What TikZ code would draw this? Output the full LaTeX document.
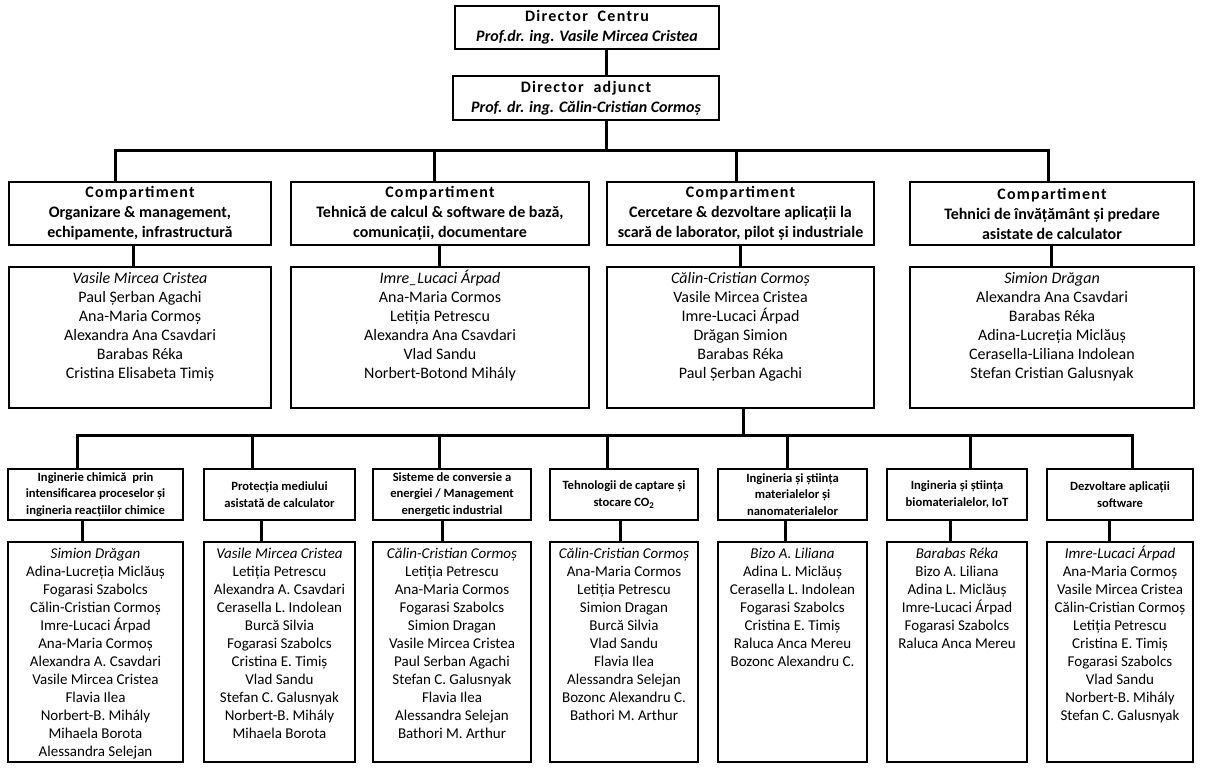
\documentclass[tikz,border=0pt]{standalone}
\usepackage{fontspec}
\setmainfont{Carlito}
\begin{document}
\begin{tikzpicture}[x=1pt,y=-1pt,
  box/.style 2 args={draw, line width=2pt, inner sep=0pt, outer sep=0pt, minimum width=#1pt, minimum height=#2pt, align=center},
  conn/.style={line width=3pt},
  dirtxt/.style={font=\bfseries\fontsize{16}{20}\selectfont},
  comptxt/.style={font=\bfseries\fontsize{16}{20}\selectfont},
  subtxt/.style={font=\bfseries\fontsize{12.6}{16.5}\selectfont},
  bignames/.style={font=\fontsize{16}{19}\selectfont, align=center, inner sep=0pt, anchor=north},
  smallnames/.style={font=\fontsize{15}{18}\selectfont, align=center, inner sep=0pt, anchor=north}
]
\newcommand{\spc}[1]{{\addfontfeatures{LetterSpace=8}#1}}
\newcommand{\tb}{\rule{0pt}{15pt}}
\newcommand{\ts}{\rule{0pt}{14pt}}
\useasboundingbox[fill=white] (0,0) rectangle (1207,771);

% directors
\node[box={264}{43}, dirtxt] (dc) at (587,27.5) {\spc{Director\ \ Centru}\\ \itshape Prof.dr. ing. Vasile Mircea Cristea};
\node[box={266}{44}, dirtxt] (da) at (586,98) {\spc{Director\ \ adjunct}\\ \itshape Prof. dr. ing. Călin-Cristian Cormoș};

% compartments
\node[box={262}{63}, comptxt] (c1) at (140,213.5) {\spc{Compartiment}\\ Organizare \& management,\\ echipamente, infrastructură};
\node[box={298}{63}, comptxt] (c2) at (440,213.5) {\spc{Compartiment}\\ Tehnică de calcul \& software de bază,\\ comunicații, documentare};
\node[box={267}{63}, comptxt] (c3) at (740.5,213.5) {\spc{Compartiment}\\ Cercetare \& dezvoltare aplicații la\\ scară de laborator, pilot și industriale};
\node[box={284}{63}, comptxt] (c4) at (1052,213.5) {\spc{Compartiment}\\ Tehnici de învățământ și predare\\ asistate de calculator};

% compartment members
\node[box={262}{141}] (m1) at (140,337.5) {};
\node[box={298}{141}] (m2) at (440,337.5) {};
\node[box={267}{141}] (m3) at (740.5,337.5) {};
\node[box={284}{141}] (m4) at (1052,337.5) {};
\node[bignames] (t1) at ([yshift=-1pt]m1.north) {\tb\textit{Vasile Mircea Cristea}\\ Paul Șerban Agachi\\ Ana-Maria Cormoș\\ Alexandra Ana Csavdari\\ Barabas Réka\\ Cristina Elisabeta Timiș};
\node[bignames] (t2) at ([yshift=-1pt]m2.north) {\tb\textit{Imre\_Lucaci Árpad}\\ Ana-Maria Cormos\\ Letiția Petrescu\\ Alexandra Ana Csavdari\\ Vlad Sandu\\ Norbert-Botond Mihály};
\node[bignames] (t3) at ([yshift=-1pt]m3.north) {\tb\textit{Călin-Cristian Cormoș}\\ Vasile Mircea Cristea\\ Imre-Lucaci Árpad\\ Drăgan Simion\\ Barabas Réka\\ Paul Șerban Agachi};
\node[bignames] (t4) at ([yshift=-1pt]m4.north) {\tb\textit{Simion Drăgan}\\ Alexandra Ana Csavdari\\ Barabas Réka\\ Adina-Lucreția Miclăuș\\ Cerasella-Liliana Indolean\\ Stefan Cristian Galusnyak};

% sub-units
\node[box={175}{51}, subtxt] (b1) at (95.5,494.5) {Inginerie chimică\ \ prin\\ intensificarea proceselor și\\ ingineria reacțiilor chimice};
\node[box={151}{51}, subtxt] (b2) at (279.5,494.5) {Protecția mediului\\ asistată de calculator};
\node[box={158}{51}, subtxt] (b3) at (452,494.5) {Sisteme de conversie a\\ energiei / Management\\ energetic industrial};
\node[box={148}{51}, subtxt] (b4) at (624,494.5) {Tehnologii de captare și\\ stocare CO\textsubscript{2}};
\node[box={149}{51}, subtxt] (b5) at (792.5,494.5) {Ingineria și știința\\ materialelor și\\ nanomaterialelor};
\node[box={140}{51}, subtxt] (b6) at (957,494.5) {Ingineria și știința\\ biomaterialelor, IoT};
\node[box={146}{51}, subtxt] (b7) at (1120,494.5) {Dezvoltare aplicații\\ software};

% sub-unit members
\node[box={175}{220}] (n1) at (95.5,652) {};
\node[box={151}{220}] (n2) at (279.5,652) {};
\node[box={158}{220}] (n3) at (452,652) {};
\node[box={148}{220}] (n4) at (624,652) {};
\node[box={149}{220}] (n5) at (792.5,652) {};
\node[box={140}{220}] (n6) at (957,652) {};
\node[box={146}{220}] (n7) at (1120,652) {};
\node[smallnames] (s1) at ([yshift=-2.5pt]n1.north) {\ts\textit{Simion Drăgan}\\ Adina-Lucreția Miclăuș\\ Fogarasi Szabolcs\\ Călin-Cristian Cormoș\\ Imre-Lucaci Árpad\\ Ana-Maria Cormoș\\ Alexandra A. Csavdari\\ Vasile Mircea Cristea\\ Flavia Ilea\\ Norbert-B. Mihály\\ Mihaela Borota\\ Alessandra Selejan};
\node[smallnames] (s2) at ([yshift=-2.5pt]n2.north) {\ts\textit{Vasile Mircea Cristea}\\ Letiția Petrescu\\ Alexandra A. Csavdari\\ Cerasella L. Indolean\\ Burcă Silvia\\ Fogarasi Szabolcs\\ Cristina E. Timiș\\ Vlad Sandu\\ Stefan C. Galusnyak\\ Norbert-B. Mihály\\ Mihaela Borota};
\node[smallnames] (s3) at ([yshift=-2.5pt]n3.north) {\ts\textit{Călin-Cristian Cormoș}\\ Letiția Petrescu\\ Ana-Maria Cormos\\ Fogarasi Szabolcs\\ Simion Dragan\\ Vasile Mircea Cristea\\ Paul Serban Agachi\\ Stefan C. Galusnyak\\ Flavia Ilea\\ Alessandra Selejan\\ Bathori M. Arthur};
\node[smallnames] (s4) at ([yshift=-2.5pt]n4.north) {\ts\textit{Călin-Cristian Cormoș}\\ Ana-Maria Cormos\\ Letiția Petrescu\\ Simion Dragan\\ Burcă Silvia\\ Vlad Sandu\\ Flavia Ilea\\ Alessandra Selejan\\ Bozonc Alexandru C.\\ Bathori M. Arthur};
\node[smallnames] (s5) at ([yshift=-2.5pt]n5.north) {\ts\textit{Bizo A. Liliana}\\ Adina L. Miclăuș\\ Cerasella L. Indolean\\ Fogarasi Szabolcs\\ Cristina E. Timiș\\ Raluca Anca Mereu\\ Bozonc Alexandru C.};
\node[smallnames] (s6) at ([yshift=-2.5pt]n6.north) {\ts\textit{Barabas Réka}\\ Bizo A. Liliana\\ Adina L. Miclăuș\\ Imre-Lucaci Árpad\\ Fogarasi Szabolcs\\ Raluca Anca Mereu};
\node[smallnames] (s7) at ([yshift=-2.5pt]n7.north) {\ts\textit{Imre-Lucaci Árpad}\\ Ana-Maria Cormoș\\ Vasile Mircea Cristea\\ Călin-Cristian Cormoș\\ Letiția Petrescu\\ Cristina E. Timiș\\ Fogarasi Szabolcs\\ Vlad Sandu\\ Norbert-B. Mihály\\ Stefan C. Galusnyak};

% top connectors
\coordinate (v0) at (606,150);
\coordinate (k1) at (115,150);
\coordinate (k2) at (434,150);
\coordinate (k3) at (736,150);
\coordinate (k4) at (1048,150);
\draw[conn] (dc.south -| v0) -- (da.north -| v0);
\draw[conn] (da.south -| v0) -- (v0);
\draw[conn] (c1.north -| k1) -- (k1) -- (k4) -- (c4.north -| k4);
\draw[conn] (k2) -- (c2.north -| k2);
\draw[conn] (k3) -- (c3.north -| k3);

% compartment -> members
\coordinate (p1) at (133,0);
\coordinate (p2) at (439,0);
\coordinate (p3) at (740,0);
\coordinate (p4) at (1051,0);
\draw[conn] (c1.south -| p1) -- (m1.north -| p1);
\draw[conn] (c2.south -| p2) -- (m2.north -| p2);
\draw[conn] (c3.south -| p3) -- (m3.north -| p3);
\draw[conn] (c4.south -| p4) -- (m4.north -| p4);

% lower bus
\coordinate (w0) at (743,435);
\coordinate (q1) at (77,435);
\coordinate (q2) at (252,435);
\coordinate (q3) at (439,435);
\coordinate (q4) at (607,435);
\coordinate (q5) at (787,435);
\coordinate (q6) at (970,435);
\coordinate (q7) at (1132,435);
\draw[conn] (m3.south -| w0) -- (w0);
\draw[conn] (b1.north -| q1) -- (q1) -- (q7) -- (b7.north -| q7);
\draw[conn] (q2) -- (b2.north -| q2);
\draw[conn] (q3) -- (b3.north -| q3);
\draw[conn] (q4) -- (b4.north -| q4);
\draw[conn] (q5) -- (b5.north -| q5);
\draw[conn] (q6) -- (b6.north -| q6);

% sub-unit -> members
\coordinate (r1) at (82,0);
\coordinate (r2) at (261,0);
\coordinate (r3) at (442,0);
\coordinate (r4) at (620,0);
\coordinate (r5) at (785,0);
\coordinate (r6) at (950,0);
\coordinate (r7) at (1109,0);
\draw[conn] (b1.south -| r1) -- (n1.north -| r1);
\draw[conn] (b2.south -| r2) -- (n2.north -| r2);
\draw[conn] (b3.south -| r3) -- (n3.north -| r3);
\draw[conn] (b4.south -| r4) -- (n4.north -| r4);
\draw[conn] (b5.south -| r5) -- (n5.north -| r5);
\draw[conn] (b6.south -| r6) -- (n6.north -| r6);
\draw[conn] (b7.south -| r7) -- (n7.north -| r7);
\end{tikzpicture}
\end{document}
